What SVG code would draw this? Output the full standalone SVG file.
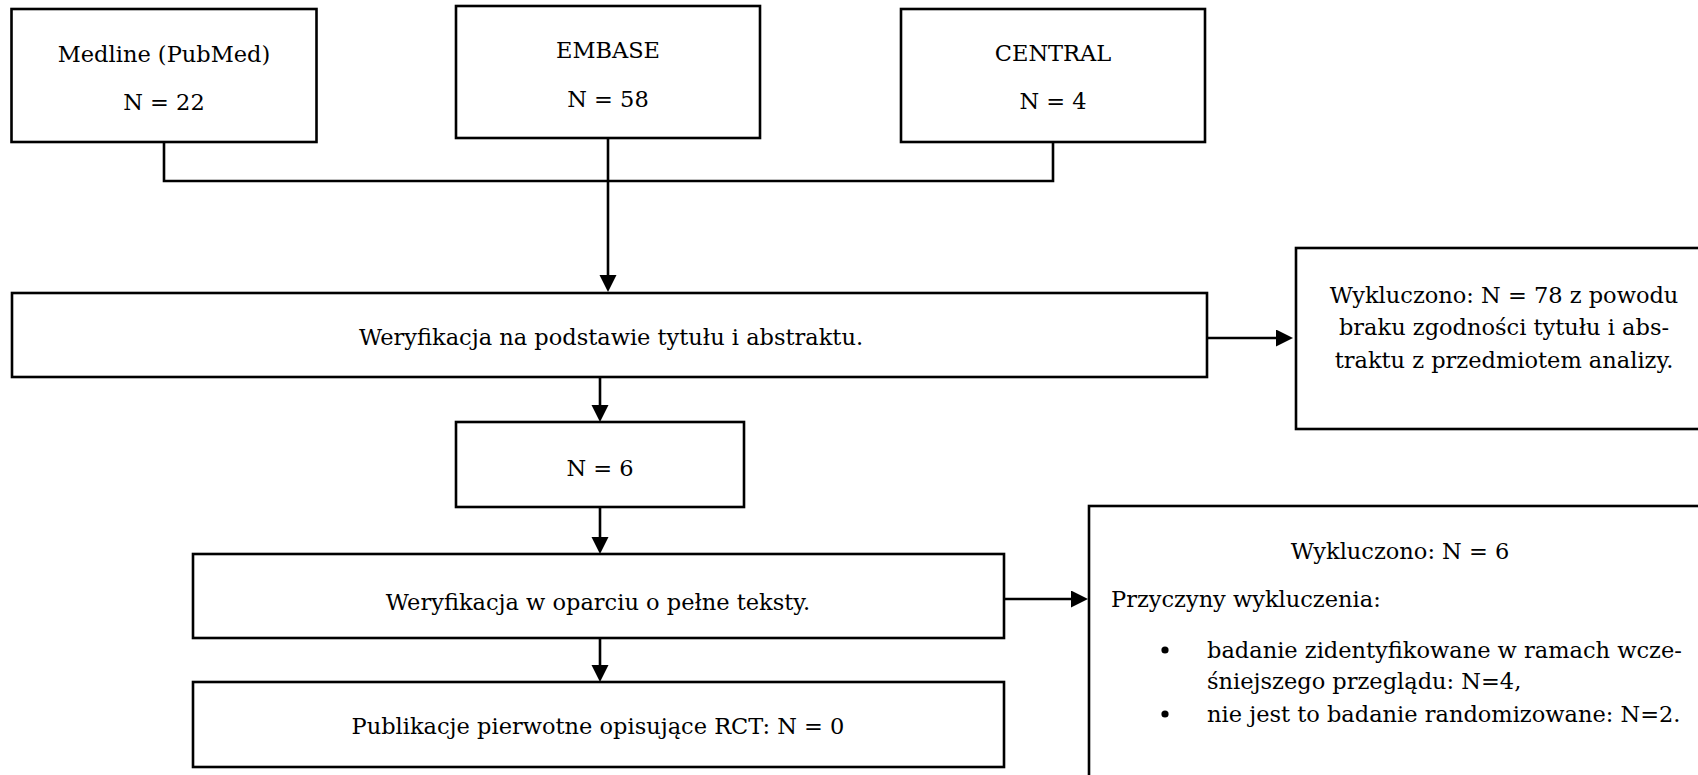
<svg xmlns="http://www.w3.org/2000/svg" width="1698" height="775" viewBox="0 0 1698 775">
  <defs>
    <style>
      .box { fill: #ffffff; stroke: #000000; stroke-width: 2.6; }
      .wire { fill: none; stroke: #000000; stroke-width: 2.6; }
      .lbl { font-family: "DejaVu Serif", "Liberation Serif", serif; font-size: 22.5px; fill: #000000; }
      .mid { text-anchor: middle; }
    </style>
    <!-- filled triangular head; its tip sits 8px past the end of the line -->
    <marker id="head" markerUnits="userSpaceOnUse" markerWidth="18" markerHeight="18" refX="9" refY="8.5" orient="auto">
      <path d="M0,0 L17,8.5 L0,17 z" fill="#000000"/>
    </marker>
  </defs>
  <rect width="1698" height="775" fill="#ffffff"/>

  <!-- connectors -->
  <g id="connectors">
    <path class="wire" d="M164,142 V181 H1053 V142"/>
    <path class="wire" d="M608,138 V284" marker-end="url(#head)"/>
    <path class="wire" d="M1207,338 H1285" marker-end="url(#head)"/>
    <path class="wire" d="M600,377 V414" marker-end="url(#head)"/>
    <path class="wire" d="M600,507 V546" marker-end="url(#head)"/>
    <path class="wire" d="M1004,599 H1080" marker-end="url(#head)"/>
    <path class="wire" d="M600,638 V674" marker-end="url(#head)"/>
  </g>

  <!-- source databases -->
  <g id="medline">
    <rect class="box" x="11.5" y="9" width="305" height="133"/>
    <text class="lbl mid" x="164" y="62">Medline (PubMed)</text>
    <text class="lbl mid" x="164" y="110">N = 22</text>
  </g>
  <g id="embase">
    <rect class="box" x="456" y="6" width="304" height="132"/>
    <text class="lbl mid" x="608" y="58">EMBASE</text>
    <text class="lbl mid" x="608" y="107">N = 58</text>
  </g>
  <g id="central">
    <rect class="box" x="901" y="9" width="304" height="133"/>
    <text class="lbl mid" x="1053" y="61">CENTRAL</text>
    <text class="lbl mid" x="1053" y="109">N = 4</text>
  </g>

  <!-- title/abstract screening -->
  <g id="screen-abstract">
    <rect class="box" x="12" y="293" width="1195" height="84"/>
    <text class="lbl mid" x="611" y="345">Weryfikacja na podstawie tytułu i abstraktu.</text>
  </g>
  <g id="excluded-abstract">
    <rect class="box" x="1296" y="248" width="430" height="181"/>
    <text class="lbl mid" x="1504" y="303">Wykluczono: N = 78 z powodu</text>
    <text class="lbl mid" x="1504" y="335">braku zgodności tytułu i abs-</text>
    <text class="lbl mid" x="1504" y="368">traktu z przedmiotem analizy.</text>
  </g>

  <g id="after-abstract">
    <rect class="box" x="456" y="422" width="288" height="85"/>
    <text class="lbl mid" x="600" y="476">N = 6</text>
  </g>

  <!-- full-text screening -->
  <g id="screen-fulltext">
    <rect class="box" x="193" y="554" width="811" height="84"/>
    <text class="lbl mid" x="598" y="610">Weryfikacja w oparciu o pełne teksty.</text>
  </g>
  <g id="excluded-fulltext">
    <rect class="box" x="1089" y="506" width="640" height="300"/>
    <text class="lbl mid" x="1400" y="559">Wykluczono: N = 6</text>
    <text class="lbl" x="1111" y="607">Przyczyny wykluczenia:</text>
    <circle cx="1165" cy="650" r="3.6" fill="#000000"/>
    <text class="lbl" x="1207" y="658">badanie zidentyfikowane w ramach wcze-</text>
    <text class="lbl" x="1207" y="689">śniejszego przeglądu: N=4,</text>
    <circle cx="1165" cy="714" r="3.6" fill="#000000"/>
    <text class="lbl" x="1207" y="722">nie jest to badanie randomizowane: N=2.</text>
  </g>

  <g id="result">
    <rect class="box" x="193" y="682" width="811" height="85"/>
    <text class="lbl mid" x="598" y="734">Publikacje pierwotne opisujące RCT: N = 0</text>
  </g>
</svg>
